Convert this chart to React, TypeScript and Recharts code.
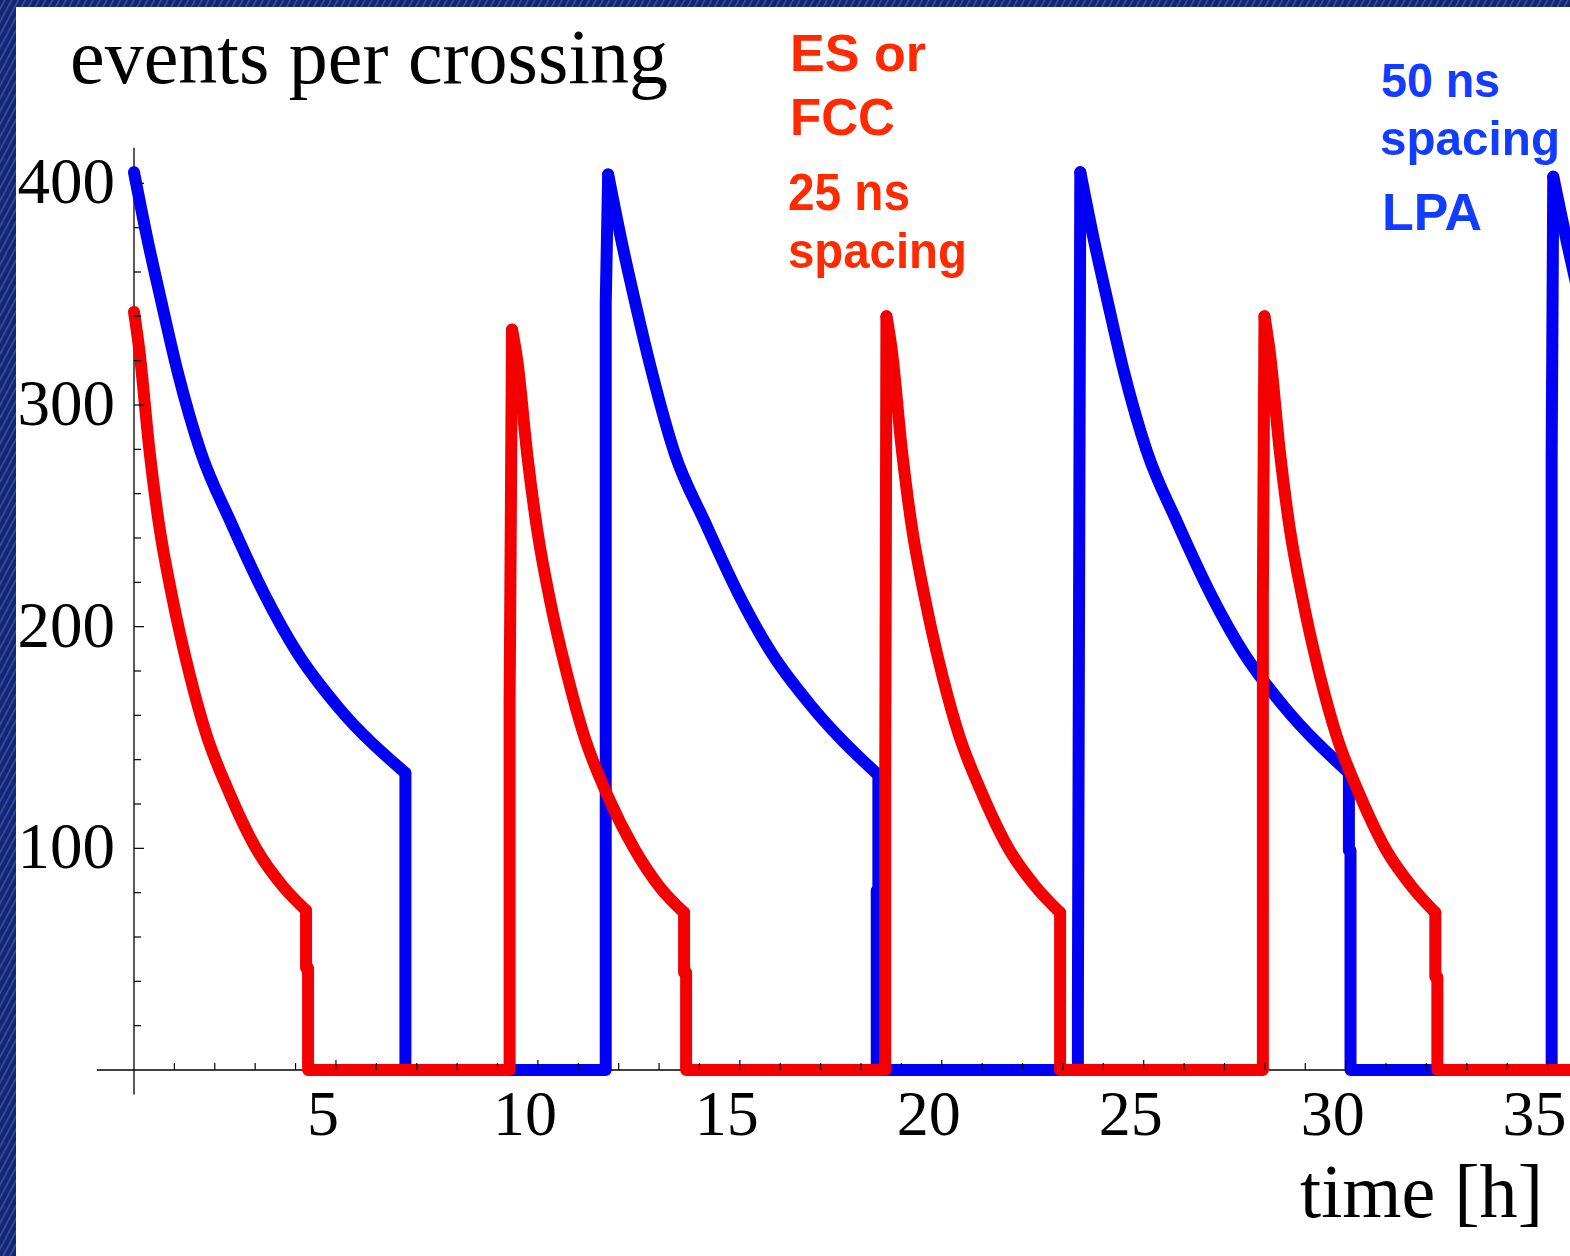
import React from 'react';
import { LineChart, Line, XAxis, YAxis, ReferenceLine } from 'recharts';

// LPA, 50 ns spacing (blue): luminosity decay during each fill (null = gap between fills)
const blueDecayTime = [0, 0.33, 0.66, 1.08, 1.65, 2.40, 3.22, 4.05, 5.04, 6.72, 9,
  11.74, 12.07, 12.40, 12.82, 13.39, 14.14, 14.96, 15.79, 16.78, 18.43, 21,
  23.43, 23.76, 24.09, 24.51, 25.08, 25.83, 26.65, 27.48, 28.47, 30.08, 33,
  35.14, 35.47, 35.80];
const blueDecayEvents = [405, 375, 348, 315, 279, 247, 215, 188, 164, 134, null,
  404, 374, 347, 315, 278, 247, 215, 188, 164, 133, null,
  405, 375, 348, 315, 279, 247, 215, 188, 164, 134, null,
  403, 374, 347];
// blue beam dump / turnaround / refill steps
const blueStepTime = [6.72, 6.72, 11.68, 11.68, 11.74, 15,
  18.43, 18.43, 18.39, 18.39, 23.37, 23.37, 23.43, 27,
  30.08, 30.08, 30.12, 30.12, 35.10, 35.10, 35.14];
const blueStepEvents = [134, 0, 0, 346, 404, null,
  133, 81, 81, 0, 0, 28, 405, null,
  134, 99, 99, 0, 0, 276, 403];

// ES or FCC, 25 ns spacing (red)
const redDecayTime = [0, 0.13, 0.38, 0.62, 0.95, 1.37, 1.78, 2.36, 3.02, 3.68, 4.26, 7,
  9.36, 9.49, 9.74, 9.98, 10.31, 10.73, 11.14, 11.72, 12.38, 13.04, 13.62, 16,
  18.63, 18.76, 19.01, 19.25, 19.58, 20.00, 20.41, 20.99, 21.65, 22.31, 22.93, 25,
  27.99, 28.12, 28.37, 28.61, 28.94, 29.36, 29.77, 30.35, 31.01, 31.67, 32.22];
const redDecayEvents = [342, 325, 280, 246, 213, 179, 152, 125, 100, 83, 72, null,
  334, 320, 277, 244, 211, 178, 151, 124, 100, 82, 71, null,
  340, 325, 280, 246, 213, 179, 152, 125, 100, 83, 71, null,
  340, 324, 279, 245, 212, 178, 151, 124, 99, 82, 71];
const redStepTime = [4.26, 4.26, 4.31, 4.31, 9.30, 9.30, 9.36, 11,
  13.62, 13.62, 13.67, 13.67, 18.60, 18.60, 18.63, 20,
  22.93, 22.93, 27.95, 27.95, 27.99, 30,
  32.22, 32.22, 32.27, 32.27, 36];
const redStepEvents = [72, 46, 46, 0, 0, 166, 334, null,
  71, 44, 44, 0, 0, 131, 340, null,
  71, 0, 0, 214, 340, null,
  71, 42, 42, 0, 0];

const xTicks = [1, 2, 3, 4, 5, 6, 7, 8, 9, 10, 11, 12, 13, 14, 15, 16, 17, 18, 19, 20,
  21, 22, 23, 24, 25, 26, 27, 28, 29, 30, 31, 32, 33, 34, 35];
const yTicks = [20, 40, 60, 80, 100, 120, 140, 160, 180, 200, 220, 240, 260, 280, 300,
  320, 340, 360, 380, 400];
const xDomain = [0, 36];
const yDomain = [0, 420];

const zip = (ts: number[], vs: (number | null)[]) => ts.map((t, i) => ({ t, v: vs[i] }));
const blueDecay = zip(blueDecayTime, blueDecayEvents);
const blueSteps = zip(blueStepTime, blueStepEvents);
const redDecay = zip(redDecayTime, redDecayEvents);
const redSteps = zip(redStepTime, redStepEvents);

const BLUE = '#0000f4';
const RED = '#f40000';
const SERIF = '"Liberation Serif", "Times New Roman", serif';
const SANS = '"Liberation Sans", Arial, sans-serif';

const XTick = (props: any) => {
  const { x, y, payload } = props;
  const v = payload.value;
  const major = v % 5 === 0;
  return (
    <g>
      <line x1={x} x2={x} y1={y} y2={y - (major ? 10 : 7)} stroke="#000" strokeWidth={1.2} />
      {major && (
        <text x={x - 13} y={y + 65} textAnchor="middle" fontFamily={SERIF} fontSize={64} fill="#000">
          {v}
        </text>
      )}
    </g>
  );
};

const YTick = (props: any) => {
  const { x, y, payload } = props;
  const v = payload.value;
  const major = v % 100 === 0;
  return (
    <g>
      <line x1={x} x2={x + (major ? 10 : 7)} y1={y} y2={y} stroke="#000" strokeWidth={1.2} />
      {major && (
        <text x={x - 19} y={y + 20} textAnchor="end" fontFamily={SERIF} fontSize={65} fill="#000">
          {v}
        </text>
      )}
    </g>
  );
};

const lineProps = {
  dataKey: 'v',
  strokeWidth: 12,
  strokeLinejoin: 'round' as const,
  strokeLinecap: 'round' as const,
  dot: false,
  activeDot: false,
  connectNulls: false,
  isAnimationActive: false,
};

export default function App() {
  return (
    <div
      style={{
        position: 'absolute',
        left: 0,
        top: 0,
        width: 1570,
        height: 1256,
        overflow: 'hidden',
        background:
          'repeating-linear-gradient(118deg, #16266e 0px, #16266e 3px, #3553b4 4px, #16266e 6px)',
      }}
    >
      <div style={{ position: 'absolute', left: 16, top: 7, width: 1554, height: 1249, background: '#fff' }} />
      <div style={{ position: 'absolute', left: 0, top: 0 }}>
        <LineChart width={1600} height={1256} margin={{ top: 139, right: 12, left: 74, bottom: 156 }}>
          <XAxis
            type="number"
            dataKey="t"
            domain={xDomain}
            ticks={xTicks}
            interval={0}
            axisLine={false}
            tickLine={false}
            tickSize={0}
            tickMargin={0}
            height={30}
            tick={<XTick />}
          />
          <YAxis
            type="number"
            dataKey="v"
            domain={yDomain}
            ticks={yTicks}
            interval={0}
            axisLine={false}
            tickLine={false}
            tickSize={0}
            tickMargin={0}
            width={60}
            tick={<YTick />}
          />
          <ReferenceLine
            segment={[{ x: -0.92, y: 0 }, { x: 36, y: 0 }]}
            ifOverflow="visible"
            stroke="#000"
            strokeWidth={1.3}
          />
          <ReferenceLine
            segment={[{ x: 0, y: -11 }, { x: 0, y: 416 }]}
            ifOverflow="visible"
            stroke="#000"
            strokeWidth={1.3}
          />
          <Line data={blueDecay} type="monotoneX" stroke={BLUE} {...lineProps} />
          <Line data={blueSteps} type="linear" stroke={BLUE} {...lineProps} />
          <Line data={redDecay} type="monotoneX" stroke={RED} {...lineProps} />
          <Line data={redSteps} type="linear" stroke={RED} {...lineProps} />
        </LineChart>
      </div>
      <svg
        width={1570}
        height={1256}
        style={{ position: 'absolute', left: 0, top: 0, pointerEvents: 'none' }}
      >
        <text x={70} y={83} fontFamily={SERIF} fontSize={78} fill="#000" textLength={598} lengthAdjust="spacingAndGlyphs">
          events per crossing
        </text>
        <text x={1300} y={1217} fontFamily={SERIF} fontSize={76} fill="#000" textLength={243} lengthAdjust="spacingAndGlyphs">
          time [h]
        </text>
        <g fontFamily={SANS} fontWeight="bold" fill="#ff2a00">
          <text x={790} y={71} fontSize={52} textLength={136} lengthAdjust="spacingAndGlyphs">ES or</text>
          <text x={790} y={135} fontSize={52} textLength={105} lengthAdjust="spacingAndGlyphs">FCC</text>
          <text x={788} y={210} fontSize={51} textLength={122} lengthAdjust="spacingAndGlyphs">25 ns</text>
          <text x={788} y={268} fontSize={50} textLength={179} lengthAdjust="spacingAndGlyphs">spacing</text>
        </g>
        <g fontFamily={SANS} fontWeight="bold" fill="#123cff">
          <text x={1381} y={97} fontSize={48} textLength={119} lengthAdjust="spacingAndGlyphs">50 ns</text>
          <text x={1380} y={155} fontSize={49} textLength={180} lengthAdjust="spacingAndGlyphs">spacing</text>
          <text x={1382} y={230} fontSize={52} textLength={100} lengthAdjust="spacingAndGlyphs">LPA</text>
        </g>
      </svg>
    </div>
  );
}
